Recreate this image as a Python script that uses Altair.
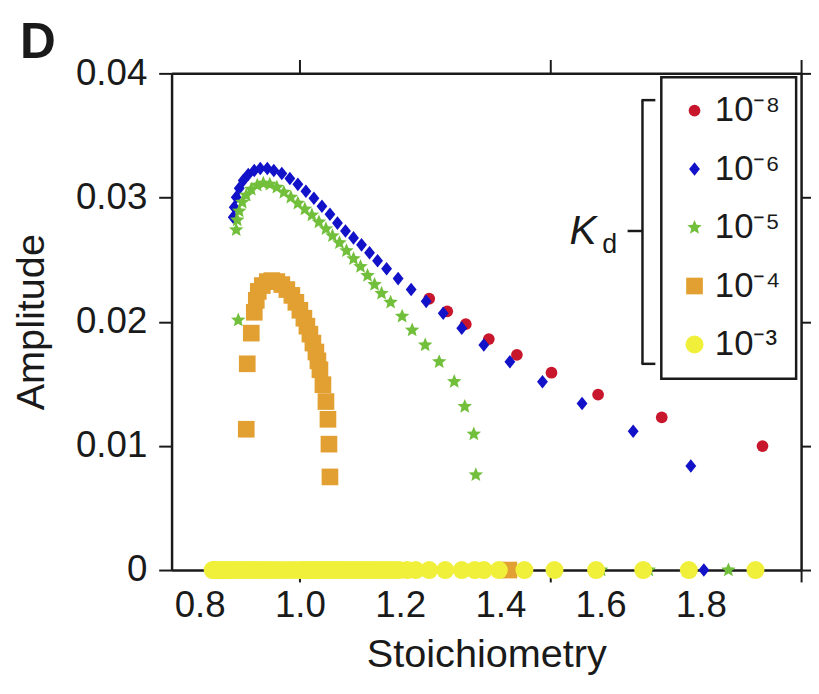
import altair as alt
import pandas as pd

series_names = ["10⁻⁸", "10⁻⁶", "10⁻⁵", "10⁻⁴", "10⁻³"]
colors = ["#c8172c", "#1212c8", "#72bf3c", "#e2a032", "#f0f03a"]
STAR = ("M0,-1L0.265,-0.364L0.951,-0.309L0.428,0.139L0.588,0.809L0,0.45"
        "L-0.588,0.809L-0.428,0.139L-0.951,-0.309L-0.265,-0.364Z")
DIAMOND = "M0,-1L0.8,0L0,1L-0.8,0Z"
shapes = ["circle", DIAMOND, STAR, "square", "circle"]
sizes = [140, 330, 380, 95, 150]

red_x = [1.258, 1.294, 1.331, 1.377, 1.433, 1.502, 1.595, 1.722, 1.923]
red_y = [0.02185, 0.02084, 0.01980, 0.01860, 0.01733, 0.01589, 0.01413, 0.01230, 0.00998]

blue_x = [0.867, 0.869, 0.873, 0.879, 0.887, 0.897, 0.909, 0.921, 0.935, 0.948, 0.964, 0.980,
          0.996, 1.012, 1.028, 1.044, 1.060, 1.075, 1.091, 1.107, 1.123, 1.139, 1.155, 1.173,
          1.196, 1.222, 1.252, 1.286, 1.323, 1.367, 1.419, 1.484, 1.563, 1.665, 1.780, 1.806]
blue_y = [0.02842, 0.02922, 0.03002, 0.03074, 0.03138, 0.03186, 0.03218, 0.03234, 0.03234, 0.03218,
          0.03194, 0.03154, 0.03106, 0.03050, 0.02994, 0.02930, 0.02866, 0.02794, 0.02731, 0.02675,
          0.02619, 0.02555, 0.02491, 0.02427, 0.02347, 0.02259, 0.02164, 0.02068, 0.01948, 0.01812,
          0.01677, 0.01517, 0.01341, 0.01118, 0.00838, 0.0]

green_x = [0.877, 0.873, 0.875, 0.879, 0.885, 0.893, 0.903, 0.915, 0.927, 0.940, 0.954, 0.968,
           0.982, 0.996, 1.010, 1.024, 1.038, 1.052, 1.065, 1.079, 1.093, 1.107, 1.121, 1.135,
           1.149, 1.163, 1.181, 1.204, 1.224, 1.250, 1.278, 1.308, 1.329, 1.347, 1.351,
           1.601, 1.696, 1.855]
green_y = [0.02012, 0.02739, 0.02818, 0.02890, 0.02962, 0.03018, 0.03066, 0.03098, 0.03114, 0.03106,
           0.03082, 0.03042, 0.03002, 0.02954, 0.02906, 0.02858, 0.02802, 0.02747, 0.02691, 0.02635,
           0.02571, 0.02507, 0.02443, 0.02371, 0.02299, 0.02228, 0.02156, 0.02044, 0.01932, 0.01812,
           0.01677, 0.01517, 0.01317, 0.01094, 0.00766, 0.0, 0.0, 0.0]

orange_x = [0.893, 0.895, 0.903, 0.909, 0.913, 0.917, 0.925, 0.935, 0.944, 0.954, 0.964, 0.974,
            0.984, 0.992, 1.000, 1.008, 1.014, 1.020, 1.026, 1.032, 1.036, 1.040, 1.046, 1.052,
            1.056, 1.058, 1.060, 1.417]
orange_y = [0.01134, 0.01661, 0.01908, 0.02076, 0.02172, 0.02244, 0.02291, 0.02323, 0.02331, 0.02323,
            0.02299, 0.02259, 0.02212, 0.02156, 0.02092, 0.02028, 0.01964, 0.01900, 0.01828, 0.01756,
            0.01685, 0.01613, 0.01493, 0.01357, 0.01214, 0.01014, 0.00750, 0.0]

yellow_x = [0.826, 0.829, 0.833, 0.838, 0.843, 0.848, 0.853, 0.858, 0.864,
            0.870, 0.876, 0.882, 0.889, 0.896, 0.903, 0.910, 0.918, 0.926, 0.934, 0.942, 0.951,
            0.960, 0.969, 0.979, 0.989, 0.999, 1.005, 1.010, 1.016, 1.021, 1.027, 1.032, 1.038,
            1.044, 1.050, 1.056, 1.062, 1.068, 1.074, 1.081, 1.087, 1.094, 1.101, 1.108, 1.115,
            1.122, 1.129, 1.136, 1.143, 1.151, 1.158, 1.166, 1.174, 1.182, 1.190, 1.198, 1.214,
            1.231, 1.258, 1.290, 1.323, 1.349, 1.367, 1.397, 1.448, 1.508, 1.591, 1.685, 1.776,
            1.909]
yellow_y = [0.0, 0.0, 0.0, 0.0, 0.0, 0.0, 0.0, 0.0, 0.0,
            0.0, 0.0, 0.0, 0.0, 0.0, 0.0, 0.0, 0.0, 0.0, 0.0, 0.0, 0.0,
            0.0, 0.0, 0.0, 0.0, 0.0, 0.0, 0.0, 0.0, 0.0, 0.0, 0.0, 0.0,
            0.0, 0.0, 0.0, 0.0, 0.0, 0.0, 0.0, 0.0, 0.0, 0.0, 0.0, 0.0,
            0.0, 0.0, 0.0, 0.0, 0.0, 0.0, 0.0, 0.0, 0.0, 0.0, 0.0, 0.0,
            0.0, 0.0, 0.0, 0.0, 0.0, 0.0, 0.0, 0.0, 0.0, 0.0, 0.0, 0.0,
            0.0]

x_label_values = [0.8, 1.0, 1.2, 1.4, 1.5, 1.6, 1.8, 2.0]
y_tick_values = [0, 0.01, 0.02, 0.03, 0.04]

rows = []
for i, (name, xs, ys) in enumerate(zip(series_names,
                        [red_x, blue_x, green_x, orange_x, yellow_x],
                        [red_y, blue_y, green_y, orange_y, yellow_y])):
    for xv, yv in zip(xs, ys):
        rows.append({"x": xv, "y": yv, "Kd": name, "ord": i})
df = pd.DataFrame(rows)

FONT = "Liberation Sans"
INK = "#1a1a1a"

xscale = alt.Scale(domain=[0.744, 2.0], nice=False, zero=False)
yscale = alt.Scale(domain=[0, 0.04], nice=False)

tick_test = "datum.value == 1 || datum.value == 1.5 || datum.value == 2"

bottom_axis = alt.Axis(
    orient="bottom", values=x_label_values,
    labelExpr="(datum.value == 1.5 || datum.value == 2) ? '' : format(datum.value, '.1f')",
    tickOpacity={"condition": {"test": tick_test, "value": 1}, "value": 0},
    tickSize=12, tickWidth=2, tickColor=INK, domainColor=INK, domainWidth=2.5,
    labelFontSize=37, labelPadding=6, labelColor=INK, labelOverlap=False, labelFlush=False,
    title="Stoichiometry", titleFontSize=40, titleFontWeight="normal", titleColor=INK, titlePadding=11,
    grid=False)
left_axis = alt.Axis(
    orient="left", values=y_tick_values, format=".2~f", tickSize=13, tickWidth=2, tickColor=INK,
    domainColor=INK, domainWidth=2.5, labelFontSize=37, labelPadding=12, labelColor=INK,
    labelFlush=False, title="Amplitude", titleFontSize=40, titleFontWeight="normal",
    titleColor=INK, titlePadding=24, grid=False)
top_axis = alt.Axis(
    orient="top", values=[1.0, 1.5, 2.0], labels=False, title=None, tickSize=14, tickWidth=2,
    tickColor=INK, domainColor=INK, domainWidth=2.5, grid=False)
right_axis = alt.Axis(
    orient="right", values=y_tick_values, labels=False, title=None, tickSize=10, tickWidth=2,
    tickColor=INK, domainColor=INK, domainWidth=2.5, grid=False)

points = alt.Chart(df).mark_point(filled=True, opacity=1, strokeWidth=0).encode(
    x=alt.X("x:Q", scale=xscale, axis=bottom_axis),
    y=alt.Y("y:Q", scale=yscale, axis=left_axis),
    color=alt.Color("Kd:N", scale=alt.Scale(domain=series_names, range=colors),
                    legend=alt.Legend(orient="none", legendX=494, legendY=4, title=None,
                                      labelFontSize=35, labelColor=INK, labelFont=FONT,
                                      labelExpr="datum.label + '\u2002\u2009\u2009'",
                                      symbolSize=120, symbolStrokeWidth=0, padding=16,
                                      rowPadding=23, labelOffset=3, symbolOffset=0,
                                      strokeColor=INK)),
    shape=alt.Shape("Kd:N", scale=alt.Scale(domain=series_names, range=shapes)),
    size=alt.Size("Kd:N", scale=alt.Scale(domain=series_names, range=sizes), legend=None),
    order=alt.Order("ord:Q"),
)

frame = alt.Chart(df).mark_point(opacity=0).encode(
    x=alt.X("x:Q", scale=xscale, axis=top_axis),
    y=alt.Y("y:Q", scale=yscale, axis=right_axis),
)

one = alt.Data(values=[{"a": 1}])
bracket_v = alt.Chart(one).mark_rule(color=INK, strokeWidth=2.5).encode(
    x=alt.value(475), y=alt.value(27), y2=alt.value(293))
bracket_t = alt.Chart(one).mark_rule(color=INK, strokeWidth=2.5).encode(
    x=alt.value(474), x2=alt.value(488), y=alt.value(27))
bracket_b = alt.Chart(one).mark_rule(color=INK, strokeWidth=2.5).encode(
    x=alt.value(474), x2=alt.value(488), y=alt.value(293))
bracket_m = alt.Chart(one).mark_rule(color=INK, strokeWidth=2.5).encode(
    x=alt.value(460), x2=alt.value(475), y=alt.value(159))
k_text = alt.Chart(one).mark_text(fontSize=41, fontStyle="italic", font=FONT, color=INK,
                                  align="center", baseline="middle").encode(
    x=alt.value(415), y=alt.value(160), text=alt.value("K"))
d_text = alt.Chart(one).mark_text(fontSize=27, font=FONT, color=INK,
                                  align="center", baseline="middle").encode(
    x=alt.value(442), y=alt.value(173), text=alt.value("d"))

chart = alt.layer(points, frame, bracket_v, bracket_t, bracket_b, bracket_m, k_text, d_text).resolve_axis(
    x="independent", y="independent"
).properties(
    width=635, height=501,
    autosize=alt.AutoSizeParams(type="none"),
    padding={"left": 165, "top": 63, "right": 10, "bottom": 110},
    title=alt.TitleParams("D", anchor="start", frame="bounds", fontSize=50, fontWeight="bold",
                          font=FONT, color=INK, dx=8, dy=17),
).configure(font=FONT).configure_view(stroke=None).configure_legend(strokeWidth=2.5)

chart.save("out.html", embed_options={"renderer": "svg", "actions": False})
